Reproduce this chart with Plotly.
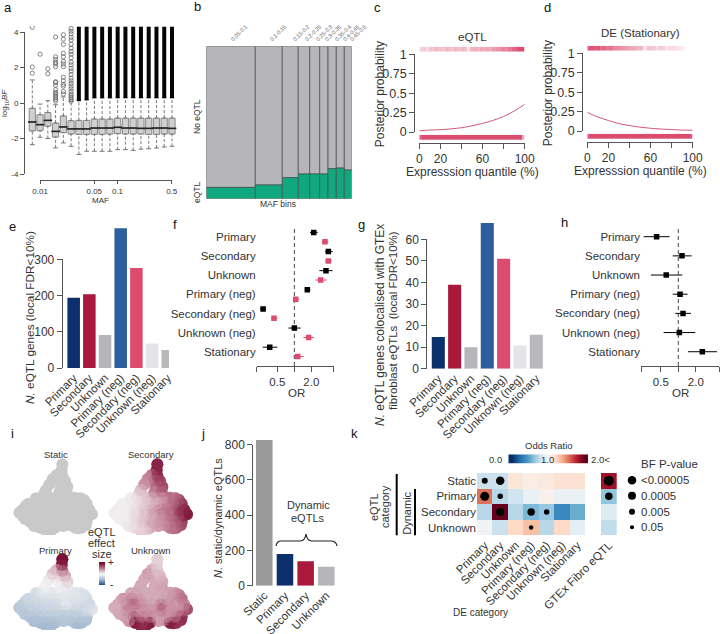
import plotly.graph_objects as go

W, H = 720, 634
FONT = "Liberation Sans"
INK = "#333333"
AXC = "#555555"

# ---------- panel a
maf_cols = list(range(1, 20))
a_q3 = [-0.3, -0.66, -0.54, -1.13, -0.73, -1.0, -0.98, -0.98, -0.9, -0.9, -0.9, -0.85, -0.85, -0.85, -0.85, -0.85, -0.85, -0.85, -0.85]
a_med = [-1.07, -1.22, -0.98, -1.6, -1.35, -1.46, -1.46, -1.46, -1.41, -1.41, -1.41, -1.37, -1.41, -1.41, -1.43, -1.43, -1.41, -1.41, -1.43]
a_q1 = [-1.58, -1.56, -1.31, -1.92, -1.67, -1.75, -1.77, -1.77, -1.77, -1.77, -1.75, -1.73, -1.75, -1.75, -1.75, -1.77, -1.77, -1.75, -1.75]
a_hi = [1.3, -0.06, 0.13, -0.1, 0.34, 0.1, 0.19, 0.19, 0.28, 0.28, 0.28, 0.28, 0.28, 0.28, 0.28, 0.28, 0.28, 0.28, 0.28]
a_lo = [-2.35, -1.93, -2.0, -2.53, -2.25, -2.44, -2.9, -2.72, -2.72, -2.72, -2.72, -2.63, -2.63, -2.67, -2.6, -2.58, -2.54, -2.48, -2.44]
a_out_x = [1, 1, 1, 2, 3, 3] + [4] * 16 + [5] * 14 + [6] * 26
a_out_y = [4.27, 2.03, 1.68, 2.75, 1.93, 1.65,
           3.72, 2.6, 2.45, 2.3, 2.2, 2.05, 1.2, 1.15, 1.0, 0.75, 0.6, 0.5, 0.4, 0.3, 0.2, 0.1,
           3.85, 3.6, 3.3, 2.8, 2.6, 2.35, 2.2, 2.05, 1.45, 1.25, 1.05, 0.95, 0.65, 0.5,
           4.2, 4.05, 3.9, 3.7, 3.55, 3.3, 3.1, 2.9, 2.75, 2.55, 2.3, 2.15, 1.95, 1.8, 1.6, 1.4, 1.25, 1.1, 0.95, 0.8, 0.65, 0.5, 0.4, 0.3, 0.2, 0.1]
a_dense_cols = [7, 8, 9, 10, 11, 12, 13, 14, 15, 16, 17, 18, 19]
a_dense_lo = [0.1, 0.15, 0.28, 0.28, 0.28, 0.28, 0.28, 0.28, 0.28, 0.28, 0.28, 0.28, 0.28]
a_dense_hi = [4.3] * 13
a_tick_cols = [2, 9, 12, 19]
a_tick_text = ["0.01", "0.05", "0.1", "0.5"]

# ---------- panel b
b_edges = [0, 49, 76, 92, 103.4, 113.4, 121.7, 130, 138, 145.4]
b_labels = ["0.05-0.1", "0.1-0.15", "0.15-0.2", "0.2-0.25", "0.25-0.3", "0.3-0.35", "0.35-0.4", "0.4-0.45", "0.45-0.5"]
b_eqtl = [0.074, 0.09, 0.138, 0.162, 0.162, 0.162, 0.197, 0.201, 0.188]

# ---------- panels c, d
q_x = [0, 10, 20, 30, 40, 50, 60, 70, 80, 90, 100]
c_curve = [0.015, 0.025, 0.03, 0.04, 0.055, 0.08, 0.11, 0.15, 0.2, 0.27, 0.355]
d_curve = [0.24, 0.18, 0.135, 0.095, 0.07, 0.05, 0.035, 0.025, 0.018, 0.012, 0.01]
c_top = [.25, .3, .2, .35, .3, .4, .35, .3, .4, .35, .3, .4, .35, .4, .35, .15, .4, .45, .4, .5, .45, .5, .45, .55, .6, .6, .7, .65, .75, .85, .9, 1, 1]
d_top = [.9, .95, .9, .95, .8, .85, .75, .8, .7, .65, .6, .6, .55, .5, .5, .45, .4, .4, .15, .35, .3, .3, .2, .3, .25, .15, .2, .2, .15, .15, .1, .05, 0]
c_bottom = [.9, 1, 1, 1, 1, 1, 1, 1, 1, 1, 1, 1, 1, 1, 1, 1, 1, 1, 1, 1, 1, 1, 1, 1, 1, 1, 1, 1, 1, 1, 1, 1, 1, 1, 1, 1, 1, 1, 1, .5]
d_bottom = [.95, 1, 1, 1, 1, 1, 1, 1, 1, 1, 1, 1, 1, 1, 1, 1, 1, 1, 1, 1, 1, 1, 1, 1, 1, 1, 1, 1, 1, 1, 1, 1, 1, 1, 1, 1, 1, 1, 1, .95]

# ---------- panels e, g
de_cats = ["Primary", "Secondary", "Unknown", "Primary (neg)", "Secondary (neg)", "Unknown (neg)", "Stationary"]
e_vals = [194, 204, 91, 387, 276, 68, 50]
g_vals = [14.7, 39, 10, 67.6, 51, 10.8, 15.8]
e_colors = ["#0c2f6e", "#a8193c", "#b5b5ba", "#2f5e9e", "#dc4c6e", "#e4e4e8", "#b9b9bb"]

# ---------- panel f (log2 OR)
f_black = [1.14, 2.0, 1.86, 0.76, -1.84, 0.0, -1.45]
f_black_lo = [0.92, 1.80, 1.47, 0.63, -2.02, -0.35, -1.86]
f_black_hi = [1.37, 2.25, 2.25, 0.94, -1.67, 0.37, -1.0]
f_pink = [1.80, 2.0, 1.55, 0.08, -1.2, 0.84, 0.2]
f_pink_lo = [1.61, 1.80, 1.24, -0.08, -1.35, 0.53, -0.06]
f_pink_hi = [2.0, 2.2, 1.90, 0.27, -1.0, 1.16, 0.55]

# ---------- panel h (log2 OR)
h_vals = [-1.24, 0.21, -0.69, 0.10, 0.27, 0.06, 1.37]
h_lo = [-1.98, -0.32, -1.56, -0.32, -0.17, -0.84, 0.55]
h_hi = [-0.50, 0.76, 0.23, 0.53, 0.72, 0.97, 2.21]

# ---------- panel i
umap_x = [157, 155, 157, 165, 172, 170, 140, 128, 118, 108, 150, 153, 148,
          95, 120, 145, 170, 195,
          55, 80, 105, 130, 155, 180, 205, 230,
          38, 64, 90, 116, 142, 168, 194, 220, 238,
          38, 64, 90, 116, 142, 168, 194, 220, 236,
          60, 85, 110, 135, 160, 185, 210, 230,
          90, 112, 135, 195, 215,
          108,
          28, 45, 48, 78, 72, 122, 160, 178, 205, 228, 246, 222, 212, 103]
umap_y = [58, 75, 92, 108, 125, 140, 90, 102, 118, 135, 105, 125, 142,
          158, 158, 158, 158, 158,
          176, 176, 176, 176, 176, 176, 176, 176,
          194, 194, 194, 194, 194, 194, 194, 194, 194,
          212, 212, 212, 212, 212, 212, 212, 212, 212,
          230, 230, 230, 230, 230, 230, 230, 230,
          248, 248, 248, 248, 248,
          258,
          203, 222, 182, 160, 243, 258, 243, 240, 250, 240, 208, 165, 160, 145]
i_secondary = [.9, .9, .85, .75, .7, .6, .5, .45, .4, .25, .6, .55, .45,
               .1, .2, .3, .35, .55,
               .02, .05, .12, .2, .3, .45, .6, .8,
               .02, .03, .1, .2, .35, .5, .55, .8, .9,
               .02, .03, .1, .2, .3, .4, .55, .7, .95,
               .03, .1, .2, .3, .4, .5, .6, .75,
               .1, .15, .3, .5, .6,
               .15,
               .02, .02, .02, .03, .05, .15, .35, .4, .55, .7, .95, .7, .55, .15]
i_primary = [1.0, .9, .55, .3, .15, .05, .25, .2, .05, -.02, .1, .05, 0,
             -.1, -.1, -.1, -.1, -.12,
             -.25, -.22, -.2, -.18, -.12, -.15, -.15, -.2,
             -.35, -.3, -.28, -.25, -.22, -.08, -.2, -.25, -.25,
             -.4, -.35, -.33, -.3, -.3, -.3, -.3, -.25, -.15,
             -.45, -.42, -.4, -.38, -.38, -.38, -.38, -.4,
             -.5, -.5, -.48, -.5, -.5,
             -.5,
             -.38, -.42, -.3, -.2, -.48, -.5, -.42, -.42, -.5, -.45, -.15, -.18, -.15, -.05]
i_unknown = [.15, .15, .2, .25, .3, .35, .3, .35, .3, .3, .3, .3, .3,
             .35, .3, .3, .3, .35,
             .4, .55, .4, .3, .3, .35, .4, .55,
             .3, .45, .55, .4, .35, .6, .4, .35, .45,
             .3, .45, .4, .4, .4, .5, .4, .45, .6,
             .35, .7, .5, .45, .35, .4, .5, .85,
             .95, .8, .95, .95, .8,
             .9,
             .28, .32, .3, .3, .4, .9, .35, .4, .9, .85, .7, .5, .4, .3]
i_legend = [[1.0], [.8], [.6], [.4], [.2], [0], [-.2], [-.4], [-.6], [-.8], [-1.0]]

# ---------- panel j
j_cats = ["Static", "Primary", "Secondary", "Unknown"]
j_vals = [826, 180, 138, 107]
j_colors = ["#999999", "#0c2f6e", "#a8193c", "#b5b5ba"]

# ---------- panel k
k_rows = ["Static", "Primary", "Secondary", "Unknown"]
k_z = [[.78, .78, 1.12, 1.07, 1.1, 1.15, 1.15],
       [1.55, .72, .8, .93, 1.05, .93, .93],
       [.72, 2.0, .72, .55, .62, .35, .5],
       [.96, .78, 1.2, 1.3, .72, 1.2, .9]]
k_gtex = [[1.85], [.6], [.87], [.75]]
k_dot_x = ["Primary", "Secondary", "Primary", "Secondary", "Secondary", "Primary (neg)", "Secondary (neg)", "Primary (neg)"]
k_dot_y = ["Static", "Static", "Primary", "Primary", "Secondary", "Secondary", "Secondary", "Unknown"]
k_dot_s = [6, 8.5, 9, 5.5, 8.5, 7.5, 5.5, 4.5]
k_gtex_dot_y = ["Static", "Primary"]
k_gtex_dot_s = [10, 7.5]
k_bar = [0, .2, .4, .6, .8, 1.0, 1.2, 1.4, 1.6, 1.8, 2.0]
bf_labels = ["<0.00005", "0.0005", "0.005", "0.05"]
bf_sizes = [8.5, 8, 6, 4]

RDBU = [[0, "#053061"], [.1, "#2166ac"], [.2, "#4393c3"], [.3, "#92c5de"], [.4, "#d1e5f0"], [.5, "#f7f7f7"],
        [.6, "#fddbc7"], [.7, "#f4a582"], [.8, "#d6604d"], [.9, "#b2182b"], [1, "#67001f"]]
EFFECT = [[0, "#2c5a8c"], [.25, "#a8bdd2"], [.5, "#f3f3f3"], [.75, "#c07a90"], [1, "#7a0f35"]]
ROSE = [[0, "#ffffff"], [1, "#dc4c6e"]]

fig = go.Figure()
layout = dict(width=W, height=H, margin=dict(l=0, r=0, t=0, b=0, pad=0), autosize=False,
              paper_bgcolor="white", plot_bgcolor="rgba(0,0,0,0)", showlegend=False,
              font=dict(family=FONT, color=INK), annotations=[], shapes=[])
_n = [0]


def new_axes(x0, x1, y0, y1, xr=None, yr=None, xo=None, yo=None):
    _n[0] += 1
    s = "" if _n[0] == 1 else str(_n[0])
    bx = dict(domain=[x0 / W, x1 / W], anchor=f"y{s}", visible=False, showgrid=False, zeroline=False, fixedrange=True, automargin=False)
    by = dict(domain=[1 - y1 / H, 1 - y0 / H], anchor=f"x{s}", visible=False, showgrid=False, zeroline=False, fixedrange=True, automargin=False)
    if xr is not None:
        bx["range"] = xr
    if yr is not None:
        by["range"] = yr
    bx.update(xo or {})
    by.update(yo or {})
    layout[f"xaxis{s}"] = bx
    layout[f"yaxis{s}"] = by
    return dict(xaxis=f"x{s}", yaxis=f"y{s}")


def tick_style(size, lw=1.0, ticklen=4):
    return dict(visible=True, showline=True, linecolor=AXC, linewidth=lw, ticks="outside", ticklen=ticklen,
                tickwidth=lw, tickcolor=AXC, tickfont=dict(size=size, color=INK, family=FONT))


def hold(ax):
    fig.add_trace(go.Scatter(x=[None], y=[None], mode="markers", hoverinfo="skip", **ax))


def x_ticks(x0, x1, y, xr, vals, text, size, lw=1.0, ticklen=4, blank=None):
    o = tick_style(size, lw, ticklen)
    o.update(tickmode="array", tickvals=vals, ticktext=text)
    hold(new_axes(x0, x1, y - 1, y, xr, [0, 1], xo=o))
    if blank:
        o = tick_style(size, lw, ticklen)
        o.update(tickmode="array", tickvals=blank, showticklabels=False)
        hold(new_axes(x0, x1, y - 1, y, xr, [0, 1], xo=o))


def y_ticks(x, y0, y1, yr, vals, text, size, lw=1.0, ticklen=4):
    o = tick_style(size, lw, ticklen)
    o.update(tickmode="array", tickvals=vals, ticktext=text)
    hold(new_axes(x, x + 1, y0, y1, [0, 1], yr, yo=o))


def note(x, y, text, size, angle=0, anchor="center", color=INK):
    layout["annotations"].append(dict(x=x / W, y=1 - y / H, xref="paper", yref="paper", text=text, showarrow=False,
                                      textangle=angle, xanchor=anchor, yanchor="middle",
                                      font=dict(size=size, color=color, family=FONT)))


for t, x, y in [("a", 8, 7), ("b", 197, 6), ("c", 377, 7), ("d", 547, 7), ("e", 13, 226), ("f", 175, 224),
                ("g", 361, 224), ("h", 564, 222), ("i", 13, 433), ("j", 203, 433), ("k", 354, 433)]:
    note(x, y, t, 13, color="#111111")

# ---------- a
ax = new_axes(25, 180, 26, 180, [1 + (25 - 32.3) / 7.76, 1 + (180 - 32.3) / 7.76], [-4.34, 4.34])
wx, wy = [], []
for c, lo, q1, q3, hi in zip(maf_cols, a_lo, a_q1, a_q3, a_hi):
    wx += [c, c, None, c, c, None]
    wy += [lo, q1, None, q3, hi, None]
fig.add_trace(go.Scatter(x=wx, y=wy, mode="lines", line=dict(color="#555555", width=0.8, dash="3px,2px"), **ax))
fig.add_trace(go.Scatter(x=maf_cols + maf_cols, y=a_lo + a_hi, mode="markers",
                         marker=dict(symbol="line-ew", size=3.5, line=dict(color="#555555", width=0.8)), **ax))
fig.add_trace(go.Box(x=maf_cols, q1=a_q1, median=a_med, q3=a_q3, lowerfence=a_q1, upperfence=a_q3,
                     width=0.8, fillcolor="#d0d0d0", line=dict(color="#808080", width=0.9), **ax))
fig.add_trace(go.Scatter(x=maf_cols, y=a_med, mode="markers",
                         marker=dict(symbol="line-ew", size=6.2, line=dict(color="#222222", width=1.6)), **ax))
fig.add_trace(go.Scatter(x=a_out_x, y=a_out_y, mode="markers",
                         marker=dict(symbol="circle-open", size=4.2, color="#555555", line=dict(color="#555555", width=0.7)), **ax))
dx, dy = [], []
for c, lo, hi in zip(a_dense_cols, a_dense_lo, a_dense_hi):
    dx += [c, c, None]
    dy += [lo, hi, None]
fig.add_trace(go.Scatter(x=dx, y=dy, mode="lines", line=dict(color="#050505", width=4), **ax))
y_ticks(25, 32, 174, [-4, 4], [-4, -2, 0, 2, 4], ["-4", "-2", "0", "2", "4"], 8, 0.9, 4)
x_ticks(40.06, 171.7, 180, [2, 19], a_tick_cols, a_tick_text, 8, 0.9, 3)
note(5, 103, "log<sub>10</sub><i>BF</i>", 8, angle=-90)
note(100.7, 200, "MAF", 8)

# ---------- b
ax = new_axes(206.3, 351.7, 46.3, 198.7, [0, 145.4], [0, 1])
bx = [(l + r) / 2 for l, r in zip(b_edges[:-1], b_edges[1:])]
bw = [r - l for l, r in zip(b_edges[:-1], b_edges[1:])]
fig.add_trace(go.Bar(x=bx, y=[1 - v for v in b_eqtl], base=b_eqtl, width=bw,
                     marker=dict(color="#b5b5ba", line=dict(color="#555555", width=0.8)), **ax))
fig.add_trace(go.Bar(x=bx, y=b_eqtl, width=bw, marker=dict(color="#10a87f", line=dict(color="#3d5a52", width=0.8)), **ax))
for lab_, x in zip(b_labels, [239, 278, 301, 313, 324, 333, 343, 351, 358]):
    note(x, 33, lab_, 5.5, angle=-45, color="#555555")
note(197, 117, "No eQTL", 8.5, angle=-90)
note(197, 192, "eQTL", 8.5, angle=-90)
note(278, 204, "MAF bins", 8.5)


# ---------- c, d
def posterior(x0, x1, yaxis_x, y1px, y0px, axis_y, top_y, bot_y, curve, top, bottom, title, title_y, xlabel_y, ylab_x, top_stop):
    cx = (x0 + x1) / 2
    ax = new_axes(x0, x1, y1px, y0px, [0, 100], [0, 1])
    fig.add_trace(go.Scatter(x=q_x, y=curve, mode="lines", line=dict(color="#d4587a", width=1, shape="spline"), **ax))
    t = new_axes(x0, x0 + (x1 - x0) * top_stop, top_y, top_y + 5, [0, 100], [0, 1])
    fig.add_trace(go.Heatmap(z=[top], x0=100 / len(top) / 2, dx=100 / len(top), y0=0.5, dy=1, zmin=0, zmax=1,
                             colorscale=ROSE, showscale=False, **t))
    b = new_axes(x0, x1, bot_y, bot_y + 5.3, [0, 100], [0, 1])
    fig.add_trace(go.Heatmap(z=[bottom], x0=100 / len(bottom) / 2, dx=100 / len(bottom), y0=0.5, dy=1, zmin=0, zmax=1,
                             colorscale=ROSE, showscale=False, **b))
    y_ticks(yaxis_x, y1px, y0px, [0, 1], [0, .25, .5, .75, 1], ["0", "0.25", "0.5", "0.75", "1"], 12.5, 1.2, 5)
    x_ticks(x0, x1, axis_y, [0, 100], [0, 20, 60, 100], ["0", "20", "60", "100"], 12, 1.2, 5, blank=[40, 80])
    note(cx, title_y, title, 11.5)
    note(cx, xlabel_y, "Expresssion quantile (%)", 12)
    note(ylab_x, (y1px + y0px) / 2 + 1, "Posterior probability", 12, angle=-90)


posterior(419.3, 524.7, 415.3, 54.3, 132, 142.7, 46.7, 134.7, c_curve, c_top, c_bottom, "eQTL", 36.7, 172, 380, 1)
posterior(587.3, 692.7, 583.3, 53.3, 131, 141.7, 45.7, 133.7, d_curve, d_top, d_bottom, "DE (Stationary)", 33, 171, 548, 0.975)


# ---------- e, g, j bars
def bars(x0, x1, ytop, ybot, xr, yr, cats, vals, colors, size=11.5):
    ax = new_axes(x0, x1, ytop, ybot, xr, yr,
                  xo=dict(visible=True, tickmode="array", tickvals=list(range(len(cats))), ticktext=cats, tickangle=-45,
                          ticks="", showline=False, tickfont=dict(size=size, color=INK, family=FONT)))
    fig.add_trace(go.Bar(x=list(range(len(cats))), y=vals, width=0.8, marker=dict(color=colors, line=dict(width=0)), **ax))


bars(62.7, 169, 228.3, 368, [-0.70, 6.08], [0, 386], de_cats, e_vals, e_colors)
y_ticks(62.7, 259.3, 368, [0, 300], [0, 100, 200, 300], ["0", "100", "200", "300"], 12, 1.1, 5)
note(30, 318, "<i>N.</i> eQTL genes (local FDR&lt;10%)", 11.8, angle=-90)

bars(427.3, 546, 223, 368.7, [(427.3 - 438.3) / 16.33, (546 - 438.3) / 16.33], [0, 67.6], de_cats, g_vals, e_colors)
y_ticks(427.3, 239.3, 368.7, [0, 60], [0, 10, 20, 30, 40, 50, 60], ["0", "10", "20", "30", "40", "50", "60"], 12, 1.1, 5)
note(380, 325, "<i>N.</i> eQTL genes colocalised with GTEx", 12, angle=-90)
note(393, 320, "fibroblast eQTLs  (local FDR&lt;10%)", 11.5, angle=-90)


# ---------- f, h forest
def forest_axes(x0, x1, ytop, yfirst, step, xr, xticks, xtext, blank):
    yr = [(366 - yfirst) / step, (ytop - yfirst) / step]
    ax = new_axes(x0, x1, ytop, 366, xr, yr,
                  yo=dict(visible=True, tickmode="array", tickvals=list(range(7)), ticktext=de_cats, ticks="",
                          showline=False, tickfont=dict(size=11.5, color=INK, family=FONT)))
    fig.add_trace(go.Scatter(x=[0, 0], y=yr, mode="lines", line=dict(color="#333333", width=0.9, dash="4px,3px"), **ax))
    x_ticks(x0, x1, 366, xr, xticks, xtext, 11.5, 1.0, 5, blank=blank)
    return ax


def forest(ax, ys, vals, lo, hi, color, size):
    lx, ly = [], []
    for y, a, b in zip(ys, lo, hi):
        lx += [a, b, None]
        ly += [y, y, None]
    fig.add_trace(go.Scatter(x=lx, y=ly, mode="lines", line=dict(color=color, width=1), **ax))
    fig.add_trace(go.Scatter(x=vals, y=ys, mode="markers", marker=dict(symbol="square", size=size, color=color), **ax))


ax = forest_axes(256.7, 333.7, 226, 237, 19.13, [-2.216, 2.314], [-1, 1], ["0.5", "2.0"], [-2.216, 0, 2.314])
forest(ax, [i - 0.24 for i in range(7)], f_black, f_black_lo, f_black_hi, "#000000", 5.5)
forest(ax, [i + 0.25 for i in range(7)], f_pink, f_pink_lo, f_pink_hi, "#dc4c6e", 5.5)
note(296, 393, "OR", 11.5)

ax = forest_axes(641, 719.3, 226.7, 236.7, 19.17, [-2.13, 2.34], [-1, 1], ["0.5", "2.0"], [-2.13, 0, 2.34])
forest(ax, list(range(7)), h_vals, h_lo, h_hi, "#000000", 5.5)
note(680, 393, "OR", 11.5)


# ---------- i
def umap(x0, y0, values, title, tx, ty):
    ax = new_axes(x0, x0 + 95, y0, y0 + 90, [0, 285], [270, 0])
    if values is None:
        fig.add_trace(go.Scatter(x=umap_x, y=umap_y, mode="markers",
                                 marker=dict(size=12, color="#c9c9c9", line=dict(width=0)), **ax))
    else:
        fig.add_trace(go.Scatter(x=umap_x, y=umap_y, mode="markers",
                                 marker=dict(size=12, color=values, cmin=-1, cmax=1, colorscale=EFFECT, line=dict(width=0)), **ax))
        fig.add_trace(go.Scatter(x=umap_x[::-1], y=umap_y[::-1], mode="markers",
                                 marker=dict(size=12, color=values[::-1], cmin=-1, cmax=1, colorscale=EFFECT, line=dict(width=0), opacity=0.5), **ax))
    note(tx, ty, title, 9.5)


umap(10, 445, None, "Static", 55.7, 454)
umap(105, 445, i_secondary, "Secondary", 151, 454)
umap(10, 540, i_primary, "Primary", 55.7, 550)
umap(105, 540, i_unknown, "Unknown", 151, 550)
for t, y in [("eQTL", 531.5), ("effect", 542.5), ("size", 553.5)]:
    note(101.7, y, t, 11)
ax = new_axes(99, 105, 562, 585, [0, 1], [0, 11])
fig.add_trace(go.Heatmap(z=i_legend[::-1], x0=0.5, dx=1, y0=0.5, dy=1, zmin=-1, zmax=1, colorscale=EFFECT, showscale=False, zsmooth="best", **ax))
note(111, 562, "+", 10)
note(111, 584, "-", 10)

# ---------- j
bars(253.3, 340, 440, 585.7, [(253.3 - 264.3) / 20.67, (340 - 264.3) / 20.67], [0, 826], j_cats, j_vals, j_colors, 11.5)
y_ticks(253.3, 444.7, 585.7, [0, 800], [0, 200, 400, 600, 800], ["0", "200", "400", "600", "800"], 12, 1.1, 5)
note(218, 518, "<i>N.</i> static/dynamic eQTLs", 11, angle=-90)
note(308, 505, "Dynamic", 11)
note(308, 518, "eQTLs", 11)


def P(x, y):
    return f"{x / W:.5f},{1 - y / H:.5f}"


brace = (f"M {P(276, 546)} Q {P(277, 541)} {P(281, 541)} L {P(300, 541)} Q {P(305, 541)} {P(306, 534)} "
         f"Q {P(307, 541)} {P(312, 541)} L {P(331, 541)} Q {P(336, 541)} {P(337, 546)}")
layout["shapes"].append(dict(type="path", path=brace, xref="paper", yref="paper", line=dict(color="#222222", width=1.2)))

# ---------- k
lab = dict(size=11.5, color=INK, family=FONT)
ax = new_axes(477, 585.3, 473, 535.3, [-0.5, 6.5], [3.5, -0.5],
              xo=dict(visible=True, type="category", categoryorder="array", categoryarray=de_cats, tickangle=-45, ticks="", showline=False, tickfont=lab),
              yo=dict(visible=True, type="category", categoryorder="array", categoryarray=k_rows, ticks="", showline=False, tickfont=lab))
fig.add_trace(go.Heatmap(z=k_z, x=de_cats, y=k_rows, zmin=0, zmax=2, colorscale=RDBU, showscale=False, **ax))
fig.add_trace(go.Scatter(x=k_dot_x, y=k_dot_y, mode="markers", marker=dict(color="#000000", size=k_dot_s, opacity=1, line=dict(width=0)), **ax))
ax = new_axes(601, 616.7, 473, 535.3, [-0.5, 0.5], [3.5, -0.5],
              xo=dict(visible=True, type="category", tickangle=-45, ticks="", showline=False, tickfont=lab),
              yo=dict(type="category", categoryorder="array", categoryarray=k_rows))
fig.add_trace(go.Heatmap(z=k_gtex, x=["GTEx Fibro eQTL"], y=k_rows, zmin=0, zmax=2, colorscale=RDBU, showscale=False, **ax))
fig.add_trace(go.Scatter(x=["GTEx Fibro eQTL"] * 2, y=k_gtex_dot_y, mode="markers", marker=dict(color="#000000", size=k_gtex_dot_s, opacity=1, line=dict(width=0)), **ax))
ax = new_axes(508.3, 588, 454.3, 463.7, [0, 11], [0, 1])
fig.add_trace(go.Heatmap(z=[k_bar], x0=0.5, dx=1, y0=0.5, dy=1, zmin=0, zmax=2, colorscale=RDBU, showscale=False, zsmooth="best", **ax))
note(548.7, 445.7, "Odds Ratio", 9.5)
note(495, 459, "0.0", 9.5)
note(547.7, 459, "1.0", 9.5)
note(600, 459, "2.0&lt;", 9.5)
ax = new_axes(620, 720, 470, 535, [620, 720], [535, 470])
fig.add_trace(go.Scatter(x=[632] * 4, y=[480.3, 495.7, 511.7, 527.3], mode="markers", marker=dict(color="#000000", size=bf_sizes, opacity=1, line=dict(width=0)), **ax))
note(639.3, 464.3, "BF P-value", 11.5, anchor="left")
for t, y in zip(bf_labels, [480.3, 495.7, 511.7, 527.3]):
    note(639.3, y, t.replace("<", "&lt;"), 11.5, anchor="left")
note(374, 507, "eQTL", 11, angle=-90)
note(385, 507, "category", 11, angle=-90)
note(406.7, 513, "Dynamic", 11, angle=-90)
note(480.7, 612.7, "DE category", 10)
for x, y0, y1 in [(396.7, 474, 535.3), (415, 489, 535.3)]:
    layout["shapes"].append(dict(type="line", xref="paper", yref="paper", x0=x / W, x1=x / W, y0=1 - y0 / H, y1=1 - y1 / H,
                                 line=dict(color="#000000", width=2)))

layout["barmode"] = "overlay"
fig.update_layout(layout)
fig.write_html("out.html", config=dict(displayModeBar=False),
               post_script="document.body.style.margin='0';document.documentElement.style.overflow='hidden';")
